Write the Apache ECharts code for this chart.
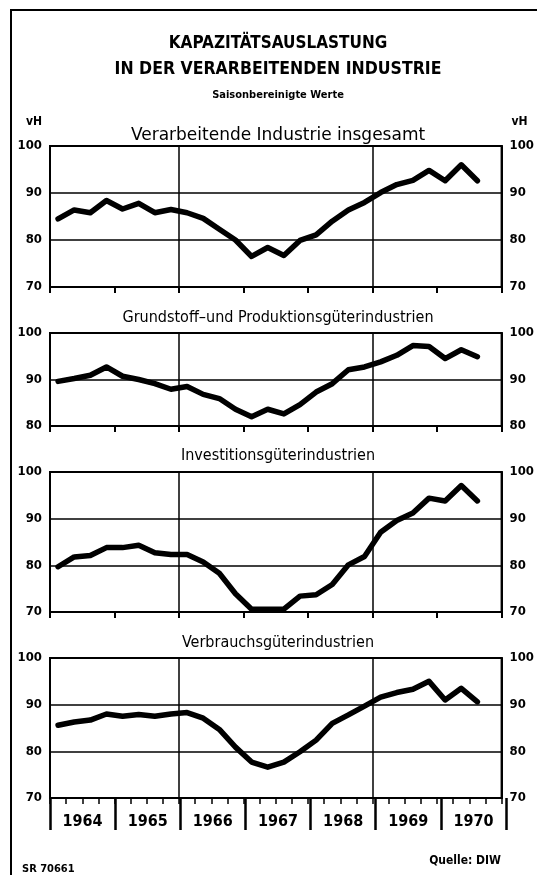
<!DOCTYPE html>
<html>
<head>
<meta charset="utf-8">
<script src="https://cdn.jsdelivr.net/npm/echarts@6/dist/echarts.min.js"></script>
<style>
  html, body { margin: 0; padding: 0; background: #fff; }
  #chart { width: 537px; height: 875px; }
</style>
</head>
<body>
<div id="chart"></div>
<script>
// quarterly capacity utilisation, seasonally adjusted (vH), 1964 I .. 1970 III
const years = ['1964', '1965', '1966', '1967', '1968', '1969', '1970'];
const quarters = years.flatMap((y) => ['I', 'II', 'III', 'IV'].map((q) => `${y} ${q}`));

const industryTotal = [84.5, 86.4, 85.8, 88.4, 86.6, 87.8, 85.8, 86.5, 85.8, 84.6, 82.3, 80.0, 76.5, 78.4,
  76.7, 79.9, 81.1, 84.0, 86.4, 88.0, 90.1, 91.8, 92.7, 94.8, 92.6, 96.0, 92.6];
const basicGoods = [89.6, 90.2, 90.9, 92.7, 90.7, 90.0, 89.1, 87.9, 88.5, 86.8, 85.9, 83.6, 82.0, 83.6,
  82.6, 84.6, 87.3, 89.1, 92.1, 92.7, 93.8, 95.2, 97.3, 97.1, 94.5, 96.4, 94.9];
const investmentGoods = [79.7, 81.8, 82.1, 83.8, 83.8, 84.3, 82.7, 82.3, 82.3, 80.7, 78.3, 73.9, 70.6, 70.6,
  70.6, 73.4, 73.7, 75.9, 80.1, 81.9, 87.1, 89.6, 91.2, 94.4, 93.8, 97.1, 93.8];
const consumerGoods = [85.6, 86.3, 86.7, 88.0, 87.5, 87.9, 87.5, 88.0, 88.3, 87.1, 84.7, 80.9, 77.7, 76.6,
  77.7, 79.9, 82.4, 86.0, 87.8, 89.7, 91.6, 92.6, 93.3, 95.0, 91.0, 93.5, 90.6];

const COND = '"DejaVu Sans Condensed", "Liberation Sans Narrow", "Arial Narrow", sans-serif';
const PLAIN = '"DejaVu Sans", sans-serif';

const panels = [
  { title: 'Verarbeitende Industrie insgesamt', font: PLAIN, size: 17, data: industryTotal, min: 70, top: 146, height: 141, titleY: 136 },
  { title: 'Grundstoff\u2013und Produktionsgüterindustrien', font: COND, size: 16, data: basicGoods, min: 80, top: 333, height: 93, titleY: 318 },
  { title: 'Investitionsgüterindustrien', font: COND, size: 16, data: investmentGoods, min: 70, top: 472, height: 140, titleY: 456 },
  { title: 'Verbrauchsgüterindustrien', font: COND, size: 16, data: consumerGoods, min: 70, top: 658, height: 140, titleY: 643 },
];

const black = '#000';
const chart = echarts.init(document.getElementById('chart'), null, { renderer: 'canvas' });

const grid = panels.map((p) => ({
  left: 50, right: 31, top: p.top, height: p.height,
  show: true, borderColor: black, borderWidth: 2, backgroundColor: 'transparent',
}));
// overlay grid for the year row under the last panel
grid.push({ left: 50, right: 31, top: panels[3].top, height: panels[3].height, show: false });

const xAxis = panels.map((p, i) => ({
  type: 'category', gridIndex: i, data: quarters, boundaryGap: true, position: 'bottom',
  axisLine: { show: true, lineStyle: { color: black, width: 2 } },
  axisTick: i < 3
    ? { show: true, interval: 3, length: 6, lineStyle: { color: black, width: 2 } }
    : { show: true, interval: 0, length: 6, lineStyle: { color: black, width: 1.5 } },
  axisLabel: { show: false },
  splitLine: {
    show: true,
    interval: (idx) => idx === 8 || idx === 20,
    lineStyle: { color: black, width: 1.5 },
  },
}));
xAxis.push({
  type: 'category', gridIndex: 4, data: years, boundaryGap: true, position: 'bottom',
  axisLine: { show: false },
  axisTick: { show: true, interval: 0, length: 32, lineStyle: { color: black, width: 2.5 } },
  axisLabel: { show: true, interval: 0, margin: 16, color: black, fontSize: 16, fontWeight: 'bold', fontFamily: COND },
  splitLine: { show: false },
});

const yAxis = [];
panels.forEach((p, i) => {
  const base = {
    type: 'value', gridIndex: i, min: p.min, max: 100, interval: 10,
    axisLine: { show: true, lineStyle: { color: black, width: 2 } },
    axisTick: { show: false },
  };
  yAxis.push({
    ...base, position: 'left',
    name: i === 0 ? 'vH' : '', nameLocation: 'end', nameGap: 24,
    nameTextStyle: { color: black, fontSize: 12, fontWeight: 'bold', fontFamily: COND, align: 'right', verticalAlign: 'middle', padding: [0, 8, 0, 0] },
    axisLabel: { margin: 8, color: black, fontSize: 13, fontWeight: 'bold', fontFamily: COND },
    splitLine: { show: true, lineStyle: { color: black, width: 1.5 } },
  });
  yAxis.push({
    ...base, position: 'right',
    name: i === 0 ? 'vH' : '', nameLocation: 'end', nameGap: 24,
    nameTextStyle: { color: black, fontSize: 12, fontWeight: 'bold', fontFamily: COND, align: 'left', verticalAlign: 'middle', padding: [0, 0, 0, 10] },
    axisLabel: { margin: 8, color: black, fontSize: 13, fontWeight: 'bold', fontFamily: COND },
    splitLine: { show: false },
  });
});
yAxis.push({ type: 'value', gridIndex: 4, min: 70, max: 100, show: false });

const series = panels.map((p, i) => ({
  type: 'line', name: p.title, xAxisIndex: i, yAxisIndex: i * 2,
  data: p.data, showSymbol: false, smooth: false,
  lineStyle: { color: black, width: 5.5, join: 'round', cap: 'round' },
}));

const text = (x, y, str, size, weight, family, align = 'center') => ({
  type: 'text', x, y,
  style: { text: str, fill: black, fontSize: size, fontWeight: weight, fontFamily: family, align, verticalAlign: 'middle' },
});

const graphic = [
  { type: 'polyline', shape: { points: [[11, 875], [11, 10], [537, 10]] }, style: { stroke: black, lineWidth: 2, fill: null } },
  text(278, 44, 'KAPAZITÄTSAUSLASTUNG', 17, 'bold', COND),
  text(278, 69, 'IN DER VERARBEITENDEN INDUSTRIE', 17.5, 'bold', COND),
  text(278, 95, 'Saisonbereinigte Werte', 11, 'bold', COND),
  ...panels.map((p) => text(278, p.titleY, p.title, p.size, 'normal', p.font)),
  text(22, 869, 'SR 70661', 11, 'bold', COND, 'left'),
  text(501, 861, 'Quelle: DIW', 12, 'bold', COND, 'right'),
];

chart.setOption({
  backgroundColor: '#fff',
  animation: false,
  grid, xAxis, yAxis, series, graphic,
});
</script>
</body>
</html>
